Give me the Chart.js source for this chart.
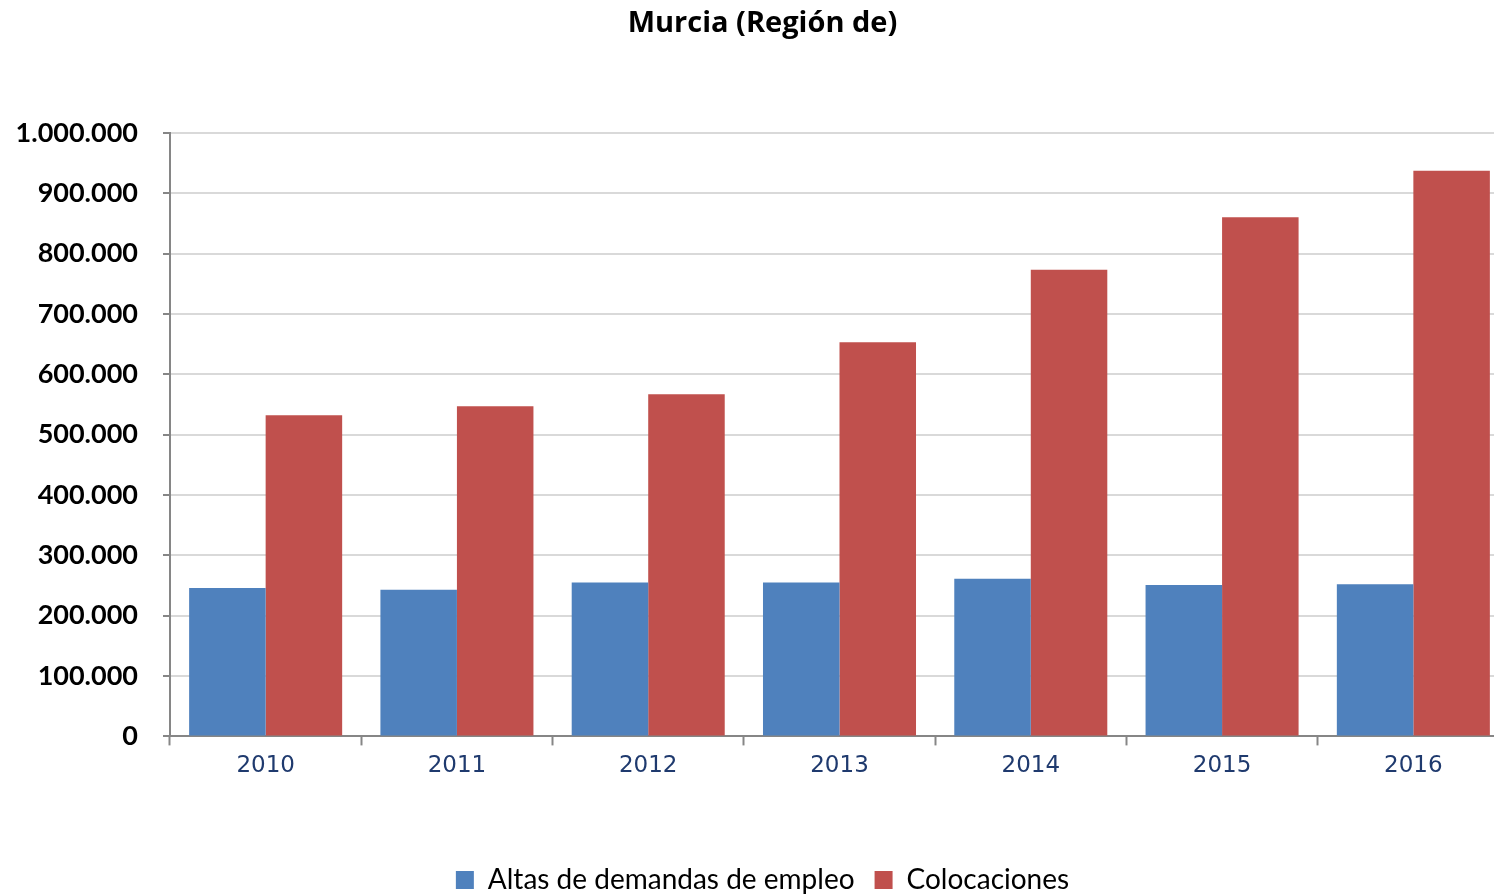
<!DOCTYPE html>
<html>
<head>
<meta charset="utf-8">
<script src="https://cdn.jsdelivr.net/npm/chart.js@4.4.0/dist/chart.umd.min.js"></script>
<style>
	html, body {
		margin: 0;
		padding: 0;
		background: #fff;
		overflow: hidden;
	}
	#wrap {
		width: 1494px;
		height: 896px;
		overflow: hidden;
	}
</style>
</head>
<body>
<div id="wrap"><canvas id="myChart" width="1536" height="904"></canvas></div>
<script>
const years = ["2010", "2011", "2012", "2013", "2014", "2015", "2016"];
const altasDemandas = [246000, 243000, 255000, 255000, 261000, 251000, 252000];
const colocaciones = [532000, 547000, 567000, 653000, 773000, 860000, 937000];
const yMax = 1000000;
const yStep = 100000;

// formato español con puntos de miles
function formatMiles(value) {
	return String(value).replace(/\B(?=(\d{3})+(?!\d))/g, ".");
}

const ctx = document.getElementById("myChart").getContext("2d");

const myChart = new Chart(ctx, {
	type: "bar",
	data: {
		labels: years,
		datasets: [
			{
				label: "Altas de demandas de empleo",
				data: altasDemandas,
				backgroundColor: "#4F81BD",
			},
			{
				label: "Colocaciones",
				data: colocaciones,
				backgroundColor: "#C0504D",
			},
		],
	},
	options: {
		responsive: false,
		animation: false,
		layout: {
			padding: { left: 16, right: 27, top: 0, bottom: 0 },
		},
		datasets: {
			bar: {
				categoryPercentage: 0.8,
				barPercentage: 1.0,
			},
		},
		plugins: {
			title: {
				display: true,
				text: "Murcia (Región de)",
				color: "#000",
				font: { family: "Open Sans", size: 29, weight: "bold" },
				padding: { top: 6, bottom: 92 },
			},
			legend: {
				position: "bottom",
				labels: {
					color: "#000",
					font: { family: "Lato", size: 28 },
					boxWidth: 18,
					boxHeight: 18,
					padding: 20,
				},
			},
			tooltip: { enabled: false },
		},
		scales: {
			x: {
				grid: {
					drawOnChartArea: false,
					color: "#868686",
					tickLength: 9,
					tickWidth: 2,
				},
				border: { color: "#868686", width: 2 },
				ticks: {
					color: "#1F3A6E",
					font: { family: "DejaVu Sans", size: 23 },
					padding: 7,
				},
				afterFit: (scale) => {
					scale.height += 59;
				},
			},
			y: {
				min: 0,
				max: yMax,
				grid: {
					color: "#D9D9D9",
					lineWidth: 2,
					tickColor: "#868686",
					tickLength: 7,
				},
				border: { color: "#868686", width: 2 },
				ticks: {
					stepSize: yStep,
					color: "#000",
					font: { family: "Lato", size: 27, weight: "bold" },
					padding: 25,
					callback: (value) => formatMiles(value),
				},
				afterFit: (scale) => {
					scale.width = 154;
				},
			},
		},
	},
});
</script>
</body>
</html>
